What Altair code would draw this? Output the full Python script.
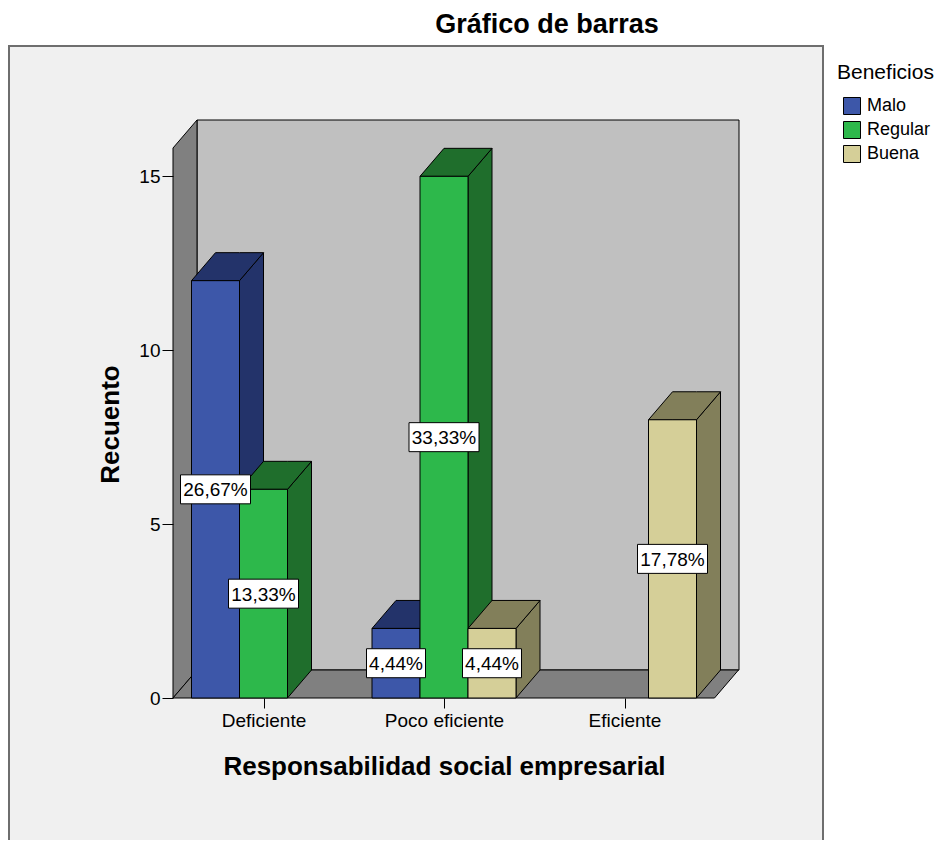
import altair as alt
import pandas as pd

# ---------------- data ----------------
categories = ["Deficiente", "Poco eficiente", "Eficiente"]
series = ["Malo", "Regular", "Buena"]
malo = [12, 2, 0]
regular = [6, 15, 0]
buena = [0, 2, 8]
y_ticks = [0, 5, 10, 15]
chart_title = "Gráfico de barras"
x_title = "Responsabilidad social empresarial"
y_title = "Recuento"
legend_title = "Beneficios"

counts = [malo, regular, buena]
total = sum(sum(c) for c in counts)

# ---------------- style ----------------
FONT = "Liberation Sans"
front_colors = ["#3d57a9", "#2db84b", "#d5cf98"]
shade_colors = ["#23336a", "#1f6e2c", "#827f5a"]
WALL = "#808080"
BACK = "#c0c0c0"
FRAME_FILL = "#f0f0f0"

PLOT_W, PLOT_H = 566, 578
Y_MAX = 16.62
PX_PER_UNIT = PLOT_H / Y_MAX
DX = 24
DY = 28 / PX_PER_UNIT
PAD, STEP, BW = 18.5, 180.5, 48
FLOOR_R = STEP * len(categories)
BOX_H = 29 / PX_PER_UNIT

xs = alt.Scale(domain=[0, PLOT_W], nice=False, zero=False)
ys = alt.Scale(domain=[0, Y_MAX], nice=False, zero=False)

centers = [PAD + g * STEP + 1.5 * BW for g in range(len(categories))]
cat_array = "[" + ",".join(f"'{c}'" for c in categories) + "]"
label_expr = f"{cat_array}[round((datum.value - {centers[0]}) / {STEP})]"

X_AXIS = alt.Axis(
    values=centers, labelExpr=label_expr, domain=False, grid=False,
    tickSize=10, tickColor="black", tickWidth=1,
    labelFont=FONT, labelFontSize=19, labelColor="black", labelPadding=3,
    title=x_title, titleFont=FONT, titleFontSize=26,
    titleFontWeight="bold", titleColor="black", titleX=271, titleY=76,
    titleBaseline="alphabetic", titleAlign="center", zindex=1)
Y_AXIS = alt.Axis(
    values=y_ticks, domain=False, grid=False, tickSize=11, tickColor="black",
    tickWidth=1, labelFont=FONT, labelFontSize=19, labelColor="black", labelPadding=2,
    title=y_title, titleFont=FONT, titleFontSize=26, titleFontWeight="bold",
    titleColor="black", titleAngle=270, titleX=-63, titleY=304,
    titleAlign="center", titleBaseline="middle", zindex=1)


def X(f):
    return alt.X(f, scale=xs, axis=X_AXIS)


def Y(f):
    return alt.Y(f, scale=ys, axis=Y_AXIS, stack=None)


# ---------------- geometry tables ----------------
fronts, faces, boxes = [], [], []
for g, cat in enumerate(categories):
    for s, ser in enumerate(series):
        v = counts[s][g]
        if v <= 0:
            continue
        x0 = PAD + g * STEP + s * BW
        x1 = x0 + BW
        fronts.append(dict(x=x0, x2=x1, y=0, y2=v, serie=ser))
        sid = f"{cat}-{ser}"
        shade = shade_colors[s]
        faces.append(dict(face=sid + "-side", kind=0, x=x1, y=0, y2=v, fill=shade))
        faces.append(dict(face=sid + "-side", kind=0, x=x1 + DX, y=DY, y2=v + DY, fill=shade))
        pts = [(x0, v, v), (x0 + DX, v, v + DY), (x1, v, v + DY), (x1 + DX, v + DY, v + DY)]
        for px, a, b in pts:
            faces.append(dict(face=sid + "-top", kind=1, x=px, y=a, y2=b, fill=shade))
        pct = v / total * 100
        txt = f"{pct:.2f}".replace(".", ",") + "%"
        cx = (x0 + x1) / 2
        w = 11 * len(txt) + 4
        boxes.append(dict(x=cx - w / 2, x2=cx + w / 2, y=v / 2 - BOX_H / 2, y2=v / 2 + BOX_H / 2,
                          cx=cx, cy=v / 2, label=txt))

sides_df = pd.DataFrame([f for f in faces if f["kind"] == 0])
tops_df = pd.DataFrame([f for f in faces if f["kind"] == 1])
fronts_df = pd.DataFrame(fronts)
boxes_df = pd.DataFrame(boxes)
texts_df = boxes_df[["cx", "cy", "label"]].rename(columns={"cx": "x", "cy": "y"})

walls_df = pd.DataFrame([
    dict(face="left", x=0, y=0, y2=Y_MAX - DY),
    dict(face="left", x=DX, y=DY, y2=Y_MAX),
    dict(face="floor", x=0, y=0, y2=0),
    dict(face="floor", x=DX, y=0, y2=DY),
    dict(face="floor", x=FLOOR_R, y=0, y2=DY),
    dict(face="floor", x=FLOOR_R + DX, y=DY, y2=DY),
])
back_df = pd.DataFrame([dict(x=DX, x2=PLOT_W, y=DY, y2=Y_MAX)])
# outer frame of the SPSS output (plot px along x, value units along y)
frame_df = pd.DataFrame([dict(x=-164, x2=650, y=-260 / PX_PER_UNIT, y2=Y_MAX + 74 / PX_PER_UNIT)])
title_df = pd.DataFrame([dict(x=374, y=Y_MAX + 87 / PX_PER_UNIT, label=chart_title)])

# ---------------- layers ----------------
frame = alt.Chart(frame_df).mark_rect(fill=FRAME_FILL, stroke="#6e6e6e", strokeWidth=2).encode(
    x=X("x:Q"), x2="x2:Q", y=Y("y:Q"), y2="y2:Q")

back = alt.Chart(back_df).mark_rect(fill=BACK, stroke="black", strokeWidth=1).encode(
    x=X("x:Q"), x2="x2:Q", y=Y("y:Q"), y2="y2:Q")

walls = alt.Chart(walls_df).mark_area(fill=WALL, stroke="black", strokeWidth=1).encode(
    x=X("x:Q"), y=Y("y:Q"), y2="y2:Q", detail="face:N")

sides = alt.Chart(sides_df).mark_area(stroke="black", strokeWidth=1).encode(
    x=X("x:Q"), y=Y("y:Q"), y2="y2:Q", detail="face:N",
    fill=alt.Fill("fill:N", scale=None))

tops = alt.Chart(tops_df).mark_area(stroke="black", strokeWidth=1).encode(
    x=X("x:Q"), y=Y("y:Q"), y2="y2:Q", detail="face:N",
    fill=alt.Fill("fill:N", scale=None))

front = alt.Chart(fronts_df).mark_rect(stroke="black", strokeWidth=1, opacity=1).encode(
    x=X("x:Q"), x2="x2:Q", y=Y("y:Q"), y2="y2:Q",
    color=alt.Color("serie:N", scale=alt.Scale(domain=series, range=front_colors),
                    legend=alt.Legend(
                        title=legend_title, orient="none", legendX=664, legendY=-58,
                        titleFont=FONT, titleFontSize=21, titleFontWeight="normal",
                        titleColor="black", titlePadding=14, padding=0,
                        labelFont=FONT, labelFontSize=18, labelColor="black",
                        labelOffset=6, symbolType="square", symbolSize=289,
                        symbolOffset=6, symbolStrokeColor="black", symbolStrokeWidth=1,
                        symbolOpacity=1, rowPadding=2, zindex=1)),
)

box = alt.Chart(boxes_df).mark_rect(fill="white", stroke="black", strokeWidth=1).encode(
    x=X("x:Q"), x2="x2:Q", y=Y("y:Q"), y2="y2:Q")

text = alt.Chart(texts_df).mark_text(font=FONT, fontSize=19, color="black",
                                     align="center", baseline="middle", dy=1).encode(
    x=X("x:Q"), y=Y("y:Q"), text="label:N")

title = alt.Chart(title_df).mark_text(font=FONT, fontSize=27, fontWeight="bold", color="black",
                                      align="center", baseline="alphabetic").encode(
    x=X("x:Q"), y=Y("y:Q"), text="label:N")

chart = alt.layer(frame, back, walls, sides, tops, front, box, text, title).properties(
    width=PLOT_W,
    height=PLOT_H,
    padding={"left": 165, "top": 112, "right": 197, "bottom": 142},
    autosize=alt.AutoSizeParams(type="none"),
    background="white",
).configure_view(stroke=None)

chart.save("out.html", embed_options={"renderer": "svg", "actions": False})
